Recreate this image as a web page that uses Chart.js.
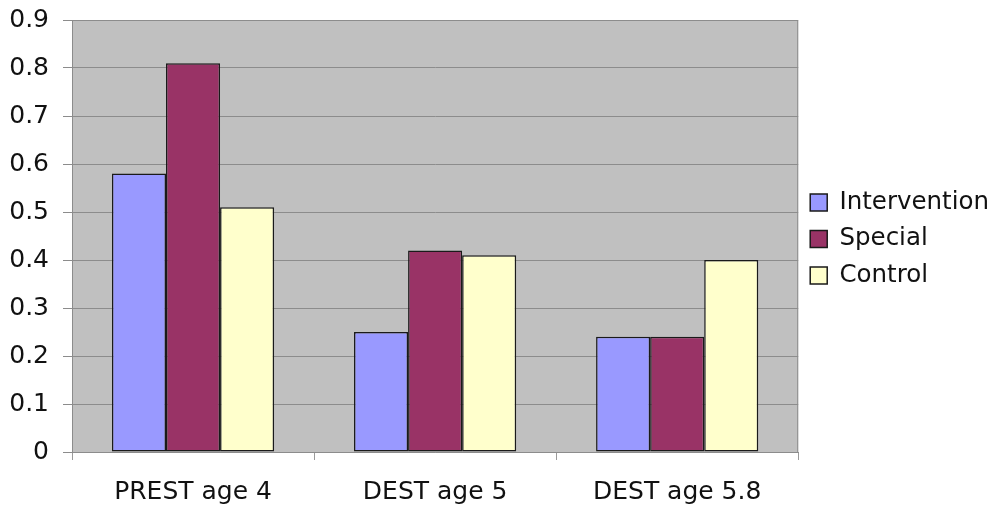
<!DOCTYPE html>
<html>
<head>
<meta charset="utf-8">
<script src="https://cdn.jsdelivr.net/npm/chart.js@4/dist/chart.umd.min.js"></script>
<style>
  html, body { margin: 0; padding: 0; background: #ffffff; }
  #wrap { width: 1001px; height: 509px; }
</style>
</head>
<body>
<div id="wrap"><canvas id="chart" width="1001" height="509"></canvas></div>
<script>
// Categories and series values
const categories = ['PREST age 4', 'DEST age 5', 'DEST age 5.8'];
const intervention = [0.58, 0.25, 0.24];
const special = [0.81, 0.42, 0.24];
const control = [0.51, 0.41, 0.40];
const yTicks = [0, 0.1, 0.2, 0.3, 0.4, 0.5, 0.6, 0.7, 0.8, 0.9];

const FONT = '"DejaVu Sans", Verdana, sans-serif';

// Grey plot background with a thin frame
const plotBackground = {
  id: 'plotBackground',
  beforeDraw(chart) {
    const { ctx, chartArea: a } = chart;
    ctx.save();
    ctx.fillStyle = '#c0c0c0';
    ctx.fillRect(a.left, a.top, a.right - a.left, a.bottom - a.top);
    ctx.restore();
  },
  afterDatasetsDraw(chart) {
    const { ctx, chartArea: a } = chart;
    ctx.save();
    ctx.strokeStyle = '#8c8c8c';
    ctx.lineWidth = 1;
    ctx.beginPath();
    ctx.moveTo(a.left, a.top + 0.5);
    ctx.lineTo(a.right - 0.5, a.top + 0.5);
    ctx.lineTo(a.right - 0.5, a.bottom);
    ctx.stroke();
    ctx.restore();
  }
};

const barStyle = { borderColor: '#1a1a1a', borderWidth: 1.5, borderSkipped: false };

new Chart(document.getElementById('chart'), {
  type: 'bar',
  data: {
    labels: categories,
    datasets: [
      Object.assign({ label: 'Intervention', data: intervention, backgroundColor: '#9999ff' }, barStyle),
      Object.assign({ label: 'Special', data: special, backgroundColor: '#993366' }, barStyle),
      Object.assign({ label: 'Control', data: control, backgroundColor: '#ffffcc' }, barStyle)
    ]
  },
  options: {
    responsive: false,
    animation: false,
    devicePixelRatio: 1,
    layout: { padding: { top: 20, right: 2, left: 0, bottom: 0 } },
    datasets: { bar: { categoryPercentage: 0.67, barPercentage: 1.0 } },
    plugins: {
      tooltip: { enabled: false },
      legend: {
        position: 'right',
        fullSize: false,
        title: {
          display: true,
          text: ' ',
          padding: 0,
          font: { family: FONT, size: 6, lineHeight: 1 }
        },
        labels: {
          font: { family: FONT, size: 24.5 },
          color: '#111111',
          boxWidth: 17,
          boxHeight: 17,
          padding: 12
        }
      }
    },
    scales: {
      x: {
        grid: {
          offset: true,
          drawOnChartArea: false,
          tickLength: 8,
          color: '#9a9a9a'
        },
        border: { color: '#8c8c8c' },
        ticks: {
          font: { family: FONT, size: 25 },
          color: '#111111',
          padding: 17
        },
        afterFit(scale) {
          scale.height = 57;
          scale.paddingLeft = 0;
          scale.paddingRight = 0;
        }
      },
      y: {
        min: 0,
        max: 0.9,
        afterBuildTicks(scale) { scale.ticks = yTicks.map(v => ({ value: v })); },
        grid: {
          color: '#8c8c8c',
          tickLength: 9,
          lineWidth: 1
        },
        border: { color: '#8c8c8c' },
        ticks: {
          font: { family: FONT, size: 25 },
          color: '#111111',
          padding: 14,
          callback: v => String(Math.round(v * 10) / 10)
        },
        afterFit(scale) {
          scale.width = 72;
          scale.paddingTop = 0;
          scale.paddingBottom = 0;
        }
      }
    }
  },
  plugins: [plotBackground]
});
</script>
</body>
</html>
